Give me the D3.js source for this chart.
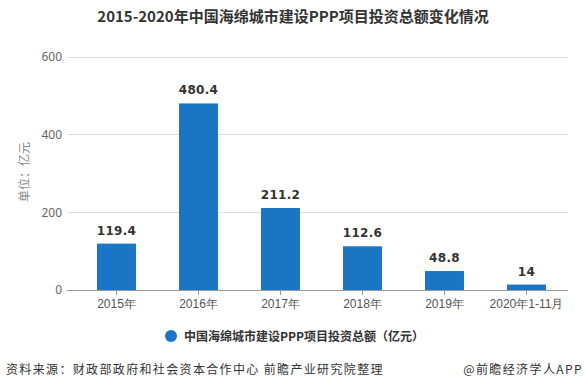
<!DOCTYPE html>
<html><head><meta charset="utf-8">
<script src="https://cdn.jsdelivr.net/npm/d3@7/dist/d3.min.js"></script>
<style>body{margin:0;background:#fff;}svg{display:block;font-family:"Microsoft YaHei","Noto Sans CJK SC",sans-serif;}</style>
</head><body>
<svg id="c" width="586" height="390"></svg>
<script>
const categories = ["2015年","2016年","2017年","2018年","2019年","2020年1-11月"];
const values = [119.4, 480.4, 211.2, 112.6, 48.8, 14];
const valueLabels = ["119.4","480.4","211.2","112.6","48.8","14"];
const yTicks = [0, 200, 400, 600];
const title = "2015-2020年中国海绵城市建设PPP项目投资总额变化情况";
const seriesName = "中国海绵城市建设PPP项目投资总额（亿元）";
const yLabel = "单位：亿元";
const source = "资料来源：财政部政府和社会资本合作中心 前瞻产业研究院整理";
const credit = "@前瞻经济学人APP";

const svg = d3.select("#c");
const color = "#1a75c4";
const x = d3.scaleBand().domain(categories).range([75.5, 567.5]).paddingInner(0.525).paddingOuter(0.2625);
const y = d3.scaleLinear().domain([0, 600]).range([290, 57]);

// gridlines
svg.append("g").selectAll("line").data(yTicks.filter(d=>d>0)).join("line")
  .attr("x1", 67).attr("x2", 568).attr("y1", d=>y(d)).attr("y2", d=>y(d))
  .attr("stroke", "#dcdcdc").attr("stroke-width", 1).attr("shape-rendering","crispEdges");

// y ticks
const ya = svg.append("g").attr("transform","translate(67,0)")
  .call(d3.axisLeft(y).tickValues(yTicks).tickSize(0).tickPadding(5));
ya.select(".domain").remove();
ya.selectAll("text").attr("fill","#666").style("font-size","12px").style("font-family","'Noto Sans',sans-serif");

// bars
svg.append("g").selectAll("rect").data(values).join("rect")
  .attr("x", (d,i)=>x(categories[i])).attr("width", x.bandwidth())
  .attr("y", d=>y(d)).attr("height", d=>y(0)-y(d)).attr("fill", color);

// value labels
svg.append("g").selectAll("text").data(values).join("text")
  .attr("x", (d,i)=>x(categories[i]) + x.bandwidth()/2).attr("y", d=>y(d)-9)
  .attr("text-anchor","middle").attr("fill","#333").style("font-size","12px").style("font-weight","bold")
  .style("letter-spacing","0.3px").style("font-family","'DejaVu Sans',sans-serif")
  .text((d,i)=>valueLabels[i]);

// x axis
const xa = svg.append("g").attr("transform","translate(0,290)")
  .call(d3.axisBottom(x).tickSize(5).tickPadding(4).tickSizeOuter(0));
xa.select(".domain").attr("stroke","#999").attr("d","M67,0.5H568");
xa.selectAll(".tick line").attr("stroke","#999");
xa.selectAll("text").attr("fill","#555").style("font-size","12px");

// y label
svg.append("text").attr("transform","translate(29,172) rotate(-90)").attr("text-anchor","middle")
  .attr("fill","#888").style("font-size","12px").text(yLabel);

// title
svg.append("text").attr("x", 293).attr("y", 22).attr("text-anchor","middle")
  .attr("fill","#333").style("font-size","15px").style("font-weight","bold").text(title);

// legend
svg.append("circle").attr("cx",171).attr("cy",336).attr("r",6).attr("fill",color);
svg.append("text").attr("x",184).attr("y",340.5).attr("fill","#333").style("font-size","12px").style("font-weight","bold").text(seriesName);

// footer
svg.append("text").attr("x",6).attr("y",374).attr("fill","#333").style("font-size","12px").style("letter-spacing","1.35px").text(source);
svg.append("text").attr("x",583).attr("y",374).attr("text-anchor","end").attr("fill","#333").style("font-size","12px").style("letter-spacing","1.4px").text(credit);
</script>
</body></html>
